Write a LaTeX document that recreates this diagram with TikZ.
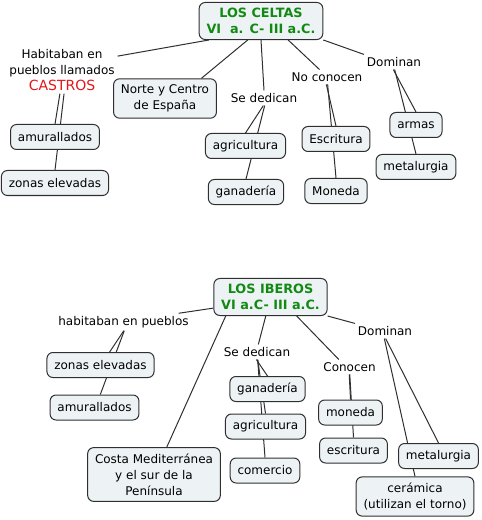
\documentclass[tikz,border=0pt]{standalone}
\usepackage{fontspec}
\setmainfont{DejaVu Sans}
\usepackage{xcolor}
\definecolor{mapFill}{HTML}{EDF3F5}
\definecolor{mapTitle}{HTML}{128A12}
\definecolor{mapRed}{HTML}{E3161B}
\definecolor{mapLine}{HTML}{2F2F2F}
\usetikzlibrary{backgrounds}
\tikzset{
  concept/.style={draw=mapLine, fill=mapFill, rounded corners=4.5pt, line width=0.75pt,
    align=center, inner xsep=5.5pt, inner ysep=4.5pt, minimum height=18.75pt,
    font=\fontsize{9}{12}\selectfont},
  titlebox/.style={concept, text=mapTitle, font=\fontsize{9.6}{11.5}\selectfont\bfseries},
  phrase/.style={align=center, inner sep=2pt, font=\fontsize{9}{12}\selectfont},
  link/.style={mapLine, line width=0.75pt}
}

\begin{document}
\begin{tikzpicture}[x=0.75pt, y=-0.75pt]
  \useasboundingbox (0,0) rectangle (481,520);
  \node[titlebox] (celtas) at (261,21) {LOS CELTAS\\VI\ \ a. C- III a.C.};
  \node[phrase] (hab) at (62,70) {Habitaban en\\pueblos llamados\\{\color{mapRed}\fontsize{10.5}{12}\selectfont CASTROS}};
  \node[concept] (amur1) at (55,137) {amurallados};
  \node[concept] (zonas1) at (55,183) {zonas elevadas};
  \node[concept] (norte) at (165,98.5) {Norte y Centro\\de España};
  \node[phrase] (dedic1) at (264,98) {Se dedican};
  \node[concept] (agri1) at (245.5,146) {agricultura};
  \node[concept] (gana1) at (246,192) {ganadería};
  \node[phrase] (noconocen) at (327,77) {No conocen};
  \node[concept] (escr1) at (336,139) {Escritura};
  \node[concept] (moneda1) at (336,191) {Moneda};
  \node[phrase] (domin1) at (394,62) {Dominan};
  \node[concept] (armas) at (416,125) {armas};
  \node[concept] (metal1) at (416,167) {metalurgia};

  \node[titlebox] (iberos) at (270.5,297) {LOS IBEROS\\VI a.C- III a.C.};
  \node[phrase] (hab2) at (123.5,322) {habitaban en pueblos};
  \node[concept] (zonas2) at (100.5,365) {zonas elevadas};
  \node[concept] (amur2) at (94.5,407.5) {amurallados};
  \node[concept] (costa) at (154,474.5) {Costa Mediterránea\\y el sur de la\\Península};
  \node[phrase] (dedic2) at (257,352) {Se dedican};
  \node[concept] (gana2) at (267.5,389) {ganadería};
  \node[concept] (agri2) at (265.5,426.5) {agricultura};
  \node[concept] (comer) at (265,470.5) {comercio};
  \node[phrase] (conocen) at (349.5,367) {Conocen};
  \node[concept] (moneda2) at (350.5,412.5) {moneda};
  \node[concept] (escr2) at (353.5,450.5) {escritura};
  \node[phrase] (domin2) at (385,331) {Dominan};
  \node[concept] (metal2) at (438.5,456) {metalurgia};
  \node[concept] (ceram) at (415,496.5) {cerámica\\(utilizan el torno)};

  \begin{scope}[on background layer]
    \draw[link] (celtas.200) -- (hab.14);
    \draw[link] (celtas.-125) -- (norte.29);
    \draw[link] (celtas.-90) -- (dedic1.north);
    \draw[link] (dedic1.-95) -- (agri1.north);
    \draw[link] (dedic1.-85) -- (gana1.north);
    \draw[link] (celtas.-35) -- (noconocen.135);
    \draw[link] (noconocen.-95) -- (escr1.north);
    \draw[link] (noconocen.-85) -- (moneda1.north);
    \draw[link] (celtas.south east) -- (domin1.north west);
    \draw[link] (domin1.-95) -- (armas.north);
    \draw[link] (domin1.-85) -- (metal1.north);
    \draw[link] (hab.-95) -- (amur1.north);
    \draw[link] (hab.-85) -- (zonas1.north);

    \draw[link] (iberos.-169) -- (hab2.9);
    \draw[link] (iberos.-157) -- (costa.65);
    \draw[link] (iberos.-104) -- (dedic2.80);
    \draw[link] (dedic2.-95) -- (gana2.north);
    \draw[link] (dedic2.-85) -- (agri2.north);
    \draw[link] (dedic2.-85) -- (comer.north);
    \draw[link] (iberos.-36) -- (conocen.145);
    \draw[link] (conocen.-92) -- (moneda2.north);
    \draw[link] (conocen.-88) -- (escr2.north);
    \draw[link] (iberos.south east) -- (domin2.north west);
    \draw[link] (domin2.-95) -- (ceram.north);
    \draw[link] (domin2.-85) -- (metal2.north);
    \draw[link] (hab2.-88) -- (zonas2.55);
    \draw[link] (hab2.-85) -- (amur2.66);
  \end{scope}
\end{tikzpicture}
\end{document}
